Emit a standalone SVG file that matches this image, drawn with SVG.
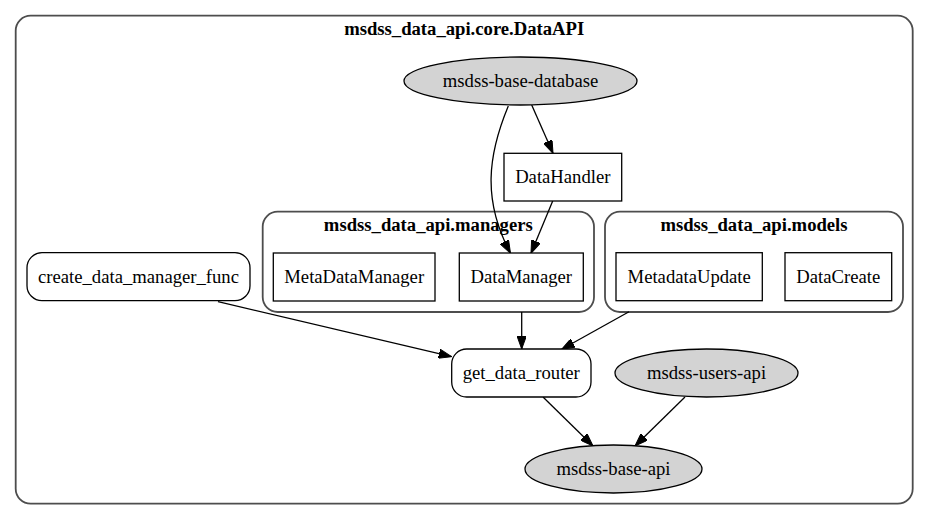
<svg xmlns="http://www.w3.org/2000/svg" width="929" height="520" viewBox="0 0 929 520">
<style>
  .cluster { fill: none; stroke: #4d4d4d; stroke-width: 1.8; }
  .node { fill: #ffffff; stroke: #000000; stroke-width: 1.3; }
  .ell { fill: #d3d3d3; stroke: #000000; stroke-width: 1.3; }
  .lbl { font-family: "Liberation Serif", "Times New Roman", serif; font-size: 18.67px; fill: #000; text-anchor: middle; }
  .title { font-family: "Liberation Serif", "Times New Roman", serif; font-size: 18.67px; font-weight: bold; fill: #000; text-anchor: middle; }
  .edge { fill: none; stroke: #000; stroke-width: 1.3; }
</style>
<defs>
  <marker id="arrow" viewBox="0 0 13 9.4" refX="13" refY="4.7" markerWidth="13" markerHeight="9.4" markerUnits="userSpaceOnUse" orient="auto">
    <path d="M0,0 L13,4.7 L0,9.4 z" fill="#000" stroke="#000" stroke-width="1"/>
  </marker>
</defs>
<rect width="929" height="520" fill="#ffffff"/>

<g id="cluster_core">
  <rect class="cluster" x="15.7" y="15.7" width="897" height="488" rx="15" ry="15"/>
  <text class="title" x="464.2" y="35">msdss_data_api.core.DataAPI</text>
</g>
<g id="cluster_managers">
  <rect class="cluster" x="262.7" y="211.7" width="331.3" height="100.3" rx="15" ry="15"/>
  <text class="title" x="428.3" y="230.7">msdss_data_api.managers</text>
</g>
<g id="cluster_models">
  <rect class="cluster" x="605" y="211.7" width="298" height="100.3" rx="15" ry="15"/>
  <text class="title" x="754" y="230.7">msdss_data_api.models</text>
</g>

<g id="edges">
  <path class="edge" d="M531.7,105 L553,153.3" marker-end="url(#arrow)"/>
  <path class="edge" d="M508.3,106 C488,155 482,200 510.5,253.3" marker-end="url(#arrow)"/>
  <path class="edge" d="M552.7,201 L531,253.3" marker-end="url(#arrow)"/>
  <path class="edge" d="M218,301.7 L451.7,356.7" marker-end="url(#arrow)"/>
  <path class="edge" d="M521.7,312 L521.7,349" marker-end="url(#arrow)"/>
  <path class="edge" d="M629,311.7 L561.7,349.3" marker-end="url(#arrow)"/>
  <path class="edge" d="M543,397 L593,446" marker-end="url(#arrow)"/>
  <path class="edge" d="M685,397 L635,446" marker-end="url(#arrow)"/>
</g>

<g id="msdss-base-database">
  <ellipse class="ell" cx="520.5" cy="81" rx="116.5" ry="24"/>
  <text class="lbl" x="520.5" y="87">msdss-base-database</text>
</g>
<g id="DataHandler">
  <rect class="node" x="504" y="153.3" width="117.7" height="47.7"/>
  <text class="lbl" x="562.8" y="183">DataHandler</text>
</g>
<g id="create_data_manager_func">
  <rect class="node" x="27" y="252.7" width="223" height="48" rx="15" ry="15"/>
  <text class="lbl" x="138.5" y="282.7">create_data_manager_func</text>
</g>
<g id="MetaDataManager">
  <rect class="node" x="273.3" y="253" width="161.7" height="48"/>
  <text class="lbl" x="354.2" y="283">MetaDataManager</text>
</g>
<g id="DataManager">
  <rect class="node" x="459.3" y="253" width="124" height="48"/>
  <text class="lbl" x="521.3" y="283">DataManager</text>
</g>
<g id="MetadataUpdate">
  <rect class="node" x="616" y="252.7" width="146.3" height="48"/>
  <text class="lbl" x="689.2" y="282.7">MetadataUpdate</text>
</g>
<g id="DataCreate">
  <rect class="node" x="785" y="252.7" width="106.7" height="48"/>
  <text class="lbl" x="838.3" y="282.7">DataCreate</text>
</g>
<g id="get_data_router">
  <rect class="node" x="451.7" y="349" width="139.3" height="48" rx="15" ry="15"/>
  <text class="lbl" x="521.3" y="379">get_data_router</text>
</g>
<g id="msdss-users-api">
  <ellipse class="ell" cx="706.5" cy="373" rx="91.5" ry="24"/>
  <text class="lbl" x="706.5" y="379">msdss-users-api</text>
</g>
<g id="msdss-base-api">
  <ellipse class="ell" cx="613.5" cy="469" rx="88.5" ry="24"/>
  <text class="lbl" x="613.5" y="475">msdss-base-api</text>
</g>
</svg>
